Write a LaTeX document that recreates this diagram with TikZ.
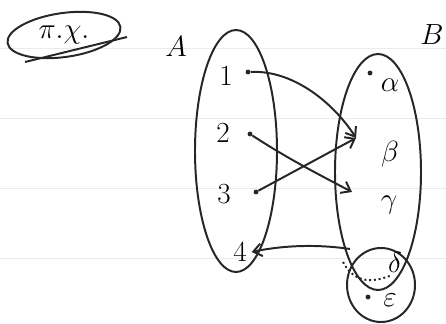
\documentclass[tikz,border=0pt]{standalone}
\usetikzlibrary{arrows.meta,positioning,calc}
\begin{document}
\begin{tikzpicture}[x=0.025cm,y=-0.025cm,
  every node/.style={font=\fontsize{22}{25}\selectfont},
  ink/.style={line width=1.4pt,draw=black!85},
  map/.style={ink,-{Straight Barb[length=6pt,width=9pt]}},
  pt/.style={circle,fill=black!85,inner sep=0pt,minimum size=3.5pt}]
  \useasboundingbox (0,0) rectangle (446,323);
  % ruled paper
  \foreach \y in {48,118,188,258}
    \draw[black!8,line width=0.6pt] (0,\y) -- (446,\y);
  % label
  \node (ex) at (64,35) {$\pi.\chi.$};
  \draw[ink,rotate around={8:(ex.center)}] (ex.center) ellipse [x radius=57, y radius=22];
  \draw[ink] (25,62) -- (127,37);
  % set A
  \node (A) at (176,47) {$A$};
  \draw[ink] (236,151) ellipse [x radius=41, y radius=121];
  \node (n1) at (226,76) {$1$};
  \node (n2) at (223,133) {$2$};
  \node (n3) at (224,194) {$3$};
  \node (n4) at (240,252) {$4$};
  \node[pt] (p1) at (248,72) {};
  \node[pt] (p2) at (250,134) {};
  \node[pt] (p3) at (256,192) {};
  % set B
  \node (B) at (432,35) {$B$};
  \draw[ink] (378,172) ellipse [x radius=43, y radius=118];
  \draw[ink] (381,285) ellipse [x radius=34, y radius=37];
  \node (na) at (390,85) {$\alpha$};
  \node (nb) at (390,154) {$\beta$};
  \node (ng) at (389,205) {$\gamma$};
  \node (nd) at (395,262) {$\delta$};
  \node (ne) at (390,300) {$\varepsilon$};
  \node[pt] (pa) at (370,73) {};
  \node[pt] (pe) at (368,297) {};
  \coordinate (qb) at (356,138);
  \coordinate (qg) at (352,192);
  \coordinate (sd) at (350,249);
  \draw[ink,dotted] (343,262) .. controls (355,285) and (375,282) .. (392,275);
  % arrows
  \draw[map] (p1) .. controls (295,70) and (335,105) .. (qb);
  \draw[map] (p2) .. controls (290,160) and (320,175) .. (qg);
  \draw[map] (p3) -- (qb);
  \draw[map] (sd) .. controls (310,243) and (275,247) .. (n4.east);
\end{tikzpicture}
\end{document}
